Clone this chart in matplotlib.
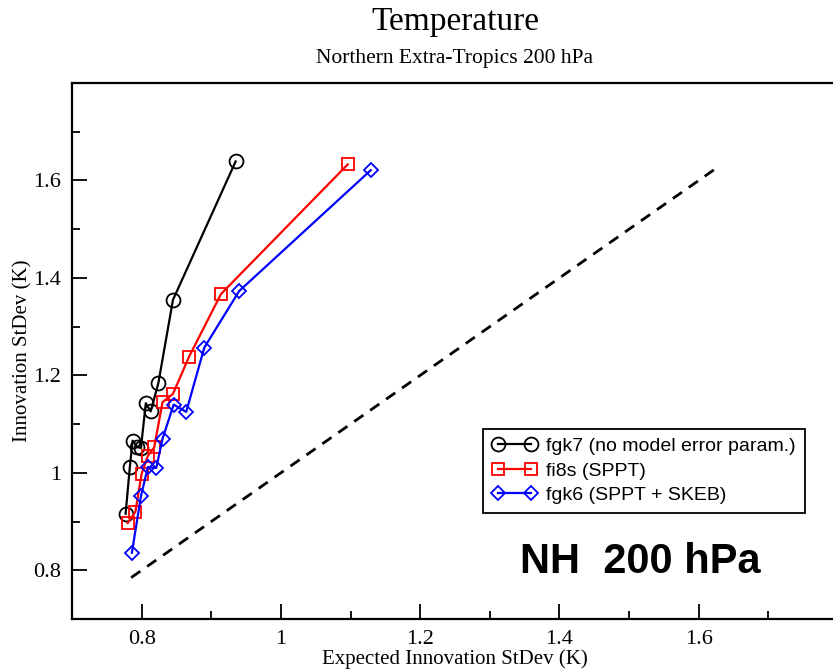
import matplotlib
matplotlib.use("Agg")
import matplotlib.pyplot as plt
from matplotlib.ticker import MultipleLocator

fgk7_x = [0.777, 0.783, 0.787, 0.794, 0.799, 0.806, 0.813, 0.824, 0.845, 0.935]
fgk7_y = [0.916, 1.011, 1.066, 1.053, 1.051, 1.143, 1.126, 1.184, 1.355, 1.639]

fi8s_x = [0.780, 0.791, 0.800, 0.809, 0.818, 0.830, 0.845, 0.868, 0.914, 1.096]
fi8s_y = [0.897, 0.920, 0.998, 1.035, 1.052, 1.145, 1.162, 1.238, 1.367, 1.633]

fgk6_x = [0.786, 0.799, 0.809, 0.821, 0.830, 0.846, 0.864, 0.890, 0.940, 1.129]
fgk6_y = [0.836, 0.952, 1.012, 1.010, 1.070, 1.140, 1.125, 1.257, 1.373, 1.621]

diag = [0.785, 1.63]

labels = ["fgk7 (no model error param.)", "fi8s (SPPT)", "fgk6 (SPPT + SKEB)"]

serif = ["Liberation Serif", "DejaVu Serif"]
sans = ["Liberation Sans", "DejaVu Sans"]


def tick_fmt(v, pos):
    # the 1.8 tick sits on the frame edge and has no label
    if v > 1.75:
        return ""
    return f"{v:g}"


fig = plt.figure(figsize=(8.33, 6.72), dpi=100)
ax = fig.add_axes([72 / 833, 53 / 672, 766 / 833, 536 / 672])

ax.plot(fgk7_x, fgk7_y, color="black", lw=1.6, marker="o", ms=10,
        mfc="none", mew=1.3, label=labels[0])
ax.plot(fi8s_x, fi8s_y, color="red", lw=1.6, marker="s", ms=8,
        mfc="none", mew=1.3, label=labels[1])
ax.plot(fgk6_x, fgk6_y, color="blue", lw=1.6, marker="D", ms=7,
        mfc="none", mew=1.3, label=labels[2])
ax.plot(diag, diag, color="black", lw=2, ls=(0, (4, 3)))

ax.set_xlim(0.7, 1.8)
ax.set_ylim(0.7, 1.8)
ax.xaxis.set_major_locator(MultipleLocator(0.2))
ax.xaxis.set_minor_locator(MultipleLocator(0.1))
ax.yaxis.set_major_locator(MultipleLocator(0.2))
ax.yaxis.set_minor_locator(MultipleLocator(0.1))
ax.xaxis.set_major_formatter(plt.FuncFormatter(tick_fmt))
ax.yaxis.set_major_formatter(plt.FuncFormatter(tick_fmt))
ax.tick_params(which="both", direction="in", width=1.3, labelsize=16, pad=8)
ax.tick_params(which="major", length=11)
ax.tick_params(which="minor", length=6)
for lab in ax.get_xticklabels() + ax.get_yticklabels():
    lab.set_family(serif)
for sp in ax.spines.values():
    sp.set_linewidth(1.6)

ax.set_xlabel("Expected Innovation StDev (K)", family=serif, fontsize=15, labelpad=0)
ax.set_ylabel("Innovation StDev (K)", family=serif, fontsize=15, labelpad=0)
ax.yaxis.set_label_coords(-0.052, 0.5)

fig.text(455 / 833, 1 - 22 / 672, "Temperature", family=serif, fontsize=24,
         ha="center", va="center")
fig.text(455 / 833, 1 - 58 / 672, "Northern Extra-Tropics 200 hPa", family=serif,
         fontsize=15.5, ha="center", va="center")

ax.text(640, 672 - 562, "NH  200 hPa", transform=None, fontsize=30,
        fontweight="bold", family=sans, ha="center", va="center")

leg = ax.legend(loc="lower left", bbox_to_anchor=(0.5366, 0.198), numpoints=2,
                prop={"family": sans, "size": 14}, handlelength=2.3,
                handletextpad=0.5, borderpad=0.45, labelspacing=0.35,
                fancybox=False, framealpha=1, borderaxespad=0)
leg.get_frame().set_edgecolor("black")
leg.get_frame().set_linewidth(1.3)

fig.savefig("out.png", dpi=100)
